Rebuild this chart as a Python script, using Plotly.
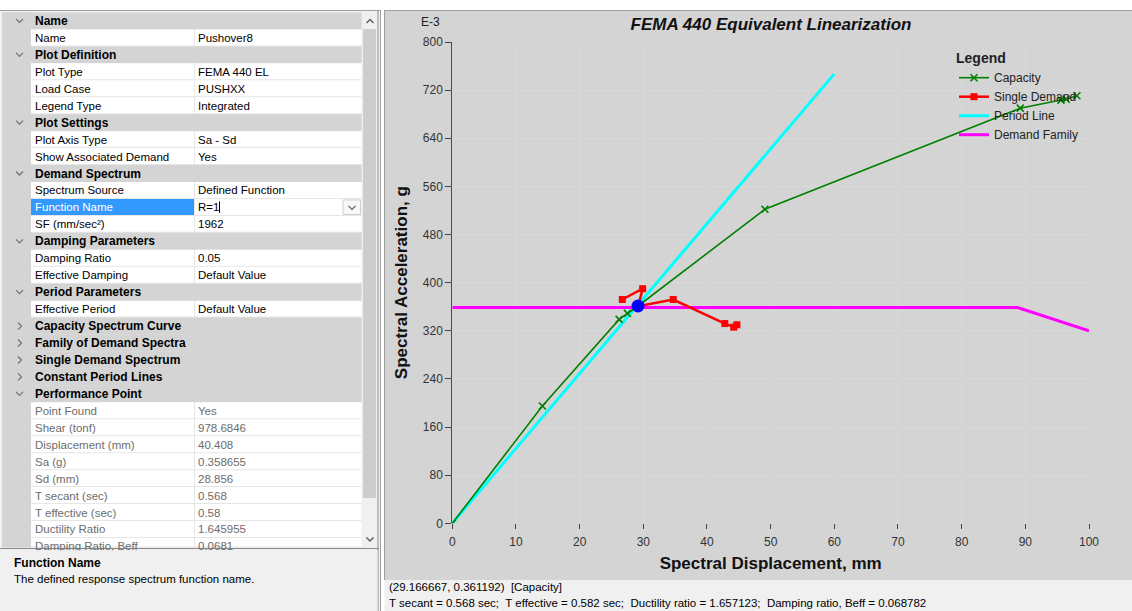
import plotly.graph_objects as go

W, H = 1132, 611
FONT = "Liberation Sans, Arial, sans-serif"

# ---- chart data (Sd in mm, Sa in 1E-3 g) ----
capacity_sd = [0, 14.15, 26.2, 27.5, 29.17, 49.1, 89.2, 95.6, 96.4, 98.1]
capacity_sa = [0, 195, 339, 349, 361.2, 522, 690, 703.5, 705, 710.7]

demand_sd = [26.7, 29.9, 29.2, 34.7, 42.8, 44.2, 44.7]
demand_sa = [372, 390, 361, 372, 332, 326, 330]

period_sd = [0, 60]
period_sa = [0, 747]

family_sd = [0, 88.8, 100]
family_sa = [358.7, 358.7, 320]

perf_sd = [29.166667]
perf_sa = [361.192]

x_ticks = list(range(0, 101, 10))
y_ticks = list(range(0, 801, 80))

# ---- property grid content ----
row_kinds = ["h", "r", "h", "r", "r", "r", "h", "r", "r", "h", "r", "sel", "r",
             "h", "r", "r", "h", "r", "c", "c", "c", "c", "h",
             "d", "d", "d", "d", "d", "d", "d", "d", "d"]
row_names = ["Name", "Name", "Plot Definition", "Plot Type", "Load Case", "Legend Type",
             "Plot Settings", "Plot Axis Type", "Show Associated Demand",
             "Demand Spectrum", "Spectrum Source", "Function Name", "SF (mm/sec²)",
             "Damping Parameters", "Damping Ratio", "Effective Damping",
             "Period Parameters", "Effective Period",
             "Capacity Spectrum Curve", "Family of Demand Spectra",
             "Single Demand Spectrum", "Constant Period Lines", "Performance Point",
             "Point Found", "Shear (tonf)", "Displacement (mm)", "Sa (g)", "Sd (mm)",
             "T secant (sec)", "T effective (sec)", "Ductility Ratio", "Damping Ratio, Beff"]
row_values = ["", "Pushover8", "", "FEMA 440 EL", "PUSHXX", "Integrated",
              "", "Sa - Sd", "Yes",
              "", "Defined Function", "R=1", "1962",
              "", "0.05", "Default Value",
              "", "Default Value",
              "", "", "", "", "",
              "Yes", "978.6846", "40.408", "0.358655", "28.856",
              "0.568", "0.58", "1.645955", "0.0681"]

desc_title = "Function Name"
desc_text = "The defined response spectrum function name."
status_line1 = "(29.166667, 0.361192)\u00a0\u00a0[Capacity]"
status_line2 = ("T secant = 0.568 sec;\u00a0 T effective = 0.582 sec;\u00a0 "
                "Ductility ratio = 1.657123;\u00a0 Damping ratio, Beff = 0.068782")

shapes, annots = [], []


def fx(x):
    return x / W


def fy(y):
    return 1 - y / H


def rect(x0, y0, x1, y1, fill, lw=0, lc=None, layer="below"):
    shapes.append(dict(type="rect", xref="paper", yref="paper",
                       x0=fx(x0), x1=fx(x1), y0=fy(y1), y1=fy(y0),
                       fillcolor=fill, line=dict(width=lw, color=lc or fill),
                       layer=layer))


def seg(x0, y0, x1, y1, color, w=1, layer="below"):
    shapes.append(dict(type="line", xref="paper", yref="paper",
                       x0=fx(x0), x1=fx(x1), y0=fy(y0), y1=fy(y1),
                       line=dict(color=color, width=w), layer=layer))


def poly(points, color, w=1.2):
    d = "M " + " L ".join(f"{fx(x):.5f},{fy(y):.5f}" for x, y in points)
    shapes.append(dict(type="path", xref="paper", yref="paper", path=d,
                       line=dict(color=color, width=w), layer="below"))


def text(x, y, s, size=11.5, color="#000000", anchor="left", **kw):
    annots.append(dict(x=fx(x), y=fy(y), xref="paper", yref="paper", text=s,
                       showarrow=False, xanchor=anchor, yanchor="middle",
                       font=dict(family=FONT, size=size, color=color), **kw))


# ---- left property panel ----
GRID_TOP, ROW_H, GRID_BOTTOM = 12.5, 16.95, 547.5
rect(0, 10, 381, 611, "#f0f0f0")
rect(2, GRID_TOP, 31, GRID_BOTTOM, "#d4d4d4")
rect(31, GRID_TOP, 361.5, GRID_BOTTOM, "#e6e6e6")
seg(0, 10.5, 381, 10.5, "#a0a0a0", 1)

for i, (kind, name, value) in enumerate(zip(row_kinds, row_names, row_values)):
    top = GRID_TOP + ROW_H * i
    bot = min(top + ROW_H, GRID_BOTTOM)
    cy = top + ROW_H / 2
    if kind in ("h", "c"):
        rect(2, top, 361.5, bot, "#d4d4d4")
        if kind == "h":
            poly([(16, cy - 2), (19.5, cy + 1.5), (23, cy - 2)], "#707070")
        else:
            poly([(18, cy - 3.5), (21.5, cy), (18, cy + 3.5)], "#707070")
        text(33, cy, f"<b>{name}</b>", size=12)
        continue
    rect(31, top, 194, bot - 1, "#3399ff" if kind == "sel" else "#ffffff")
    rect(195, top, 361.5, bot - 1, "#ffffff")
    color = "#6d6d6d" if kind == "d" else "#000000"
    text(33, cy, name, color="#ffffff" if kind == "sel" else color)
    text(196, cy, value, color=color)
    if kind == "sel":
        seg(219.5, top + 2.5, 219.5, top + 14, "#000000", 1)
        rect(343, top + 1, 360.5, top + 15.5, "#f7f7f7", lw=1, lc="#cfcfcf")
        poly([(348.5, cy - 1.5), (352, cy + 2), (355.5, cy - 1.5)], "#606060")

# scrollbar
rect(362, GRID_TOP, 377, GRID_BOTTOM, "#f0f0f0")
rect(363, 29, 376, 498, "#cdcdcd")
poly([(366.5, 23), (370, 19.5), (373.5, 23)], "#606060", 1.5)
poly([(366.5, 537.5), (370, 541), (373.5, 537.5)], "#606060", 1.5)
seg(378, 10, 378, 611, "#8a8a8a", 1)
seg(380.5, 10, 380.5, 611, "#a0a0a0", 1)
seg(0, 548.5, 379, 548.5, "#8a8a8a", 1)

# ---- chart panel ----
rect(384.5, 10, W, 580, "#d4d4d4")
seg(384.5, 10, 384.5, 580, "#a0a0a0", 1)
seg(384.5, 10.5, W, 10.5, "#a0a0a0", 1)
rect(384.5, 580, W, H, "#f0f0f0")

# cover for the clipped last grid row, then the description texts
annots.append(dict(x=fx(10), y=fy(549.5), xref="paper", yref="paper", text=" ",
                   showarrow=False, xanchor="left", yanchor="top",
                   width=366, height=60, bgcolor="#f0f0f0", borderpad=0,
                   font=dict(family=FONT, size=11)))
text(12, 563, f"<b>{desc_title}</b>", size=12)
text(12, 579, desc_text)

text(387, 587, status_line1)
text(387, 603, status_line2)
text(430, 22, "E-3", size=12, color="#222222", anchor="center")

# ---- traces ----
fig = go.Figure()
fig.add_trace(go.Scatter(x=family_sd, y=family_sa, mode="lines", name="Demand Family",
                         line=dict(color="#ff00ff", width=3), legendrank=4))
fig.add_trace(go.Scatter(x=period_sd, y=period_sa, mode="lines", name="Period Line",
                         line=dict(color="#00ffff", width=3), legendrank=3))
fig.add_trace(go.Scatter(x=capacity_sd, y=capacity_sa, mode="lines+markers",
                         name="Capacity", line=dict(color="#008000", width=1.6),
                         marker=dict(symbol="x-thin", size=7, color="#008000",
                                     line=dict(width=1.6, color="#008000")),
                         legendrank=1))
fig.add_trace(go.Scatter(x=demand_sd, y=demand_sa, mode="lines+markers",
                         name="Single Demand", line=dict(color="#ff0000", width=2.5),
                         marker=dict(symbol="square", size=7, color="#ff0000"),
                         legendrank=2))
fig.add_trace(go.Scatter(x=perf_sd, y=perf_sa, mode="markers", showlegend=False,
                         marker=dict(size=13, color="#0000ff")))

axis_font = dict(family=FONT, size=12, color="#333333")
fig.update_layout(
    width=W, height=H, autosize=False,
    margin=dict(l=0, r=0, t=0, b=0, autoexpand=False),
    paper_bgcolor="#ffffff", plot_bgcolor="#ffffff",
    font=dict(family=FONT, size=12, color="#222222"),
    shapes=shapes, annotations=annots,
    title=dict(text="<b><i>FEMA 440 Equivalent Linearization</i></b>",
               x=fx(771), y=fy(24), xanchor="center", yanchor="middle",
               xref="paper", yref="paper", automargin=False,
               font=dict(family=FONT, size=17, color="#111111")),
    xaxis=dict(domain=[fx(452.3), fx(1089)], range=[0, 100], automargin=False,
               tickvals=x_ticks, showgrid=True, gridcolor="#d9d9d9", gridwidth=1,
               ticks="outside", ticklen=5, tickcolor="#444444", tickfont=axis_font,
               ticklabelstandoff=2,
               zeroline=False, showline=False, fixedrange=True,
               title=dict(text="<b>Spectral Displacement, mm</b>", standoff=9,
                          font=dict(family=FONT, size=17, color="#111111"))),
    yaxis=dict(domain=[fy(523.3), fy(42)], range=[0, 800], automargin=False,
               tickvals=y_ticks, showgrid=True, gridcolor="#d9d9d9", gridwidth=1,
               ticks="outside", ticklen=6, tickcolor="#444444", tickfont=axis_font,
               zeroline=False, showline=True, linecolor="#ff0000", linewidth=1,
               fixedrange=True,
               title=dict(text="<b>Spectral Acceleration, g</b>", standoff=10,
                          font=dict(family=FONT, size=17, color="#111111"))),
    legend=dict(x=fx(954), y=fy(45), xanchor="left", yanchor="top",
                bgcolor="rgba(0,0,0,0)", borderwidth=0,
                font=dict(family=FONT, size=12, color="#222222"),
                title=dict(text="<b>Legend</b>", font=dict(family=FONT, size=14)),
                itemwidth=30, tracegroupgap=0),
    showlegend=True,
)

fig.write_html("out.html")
